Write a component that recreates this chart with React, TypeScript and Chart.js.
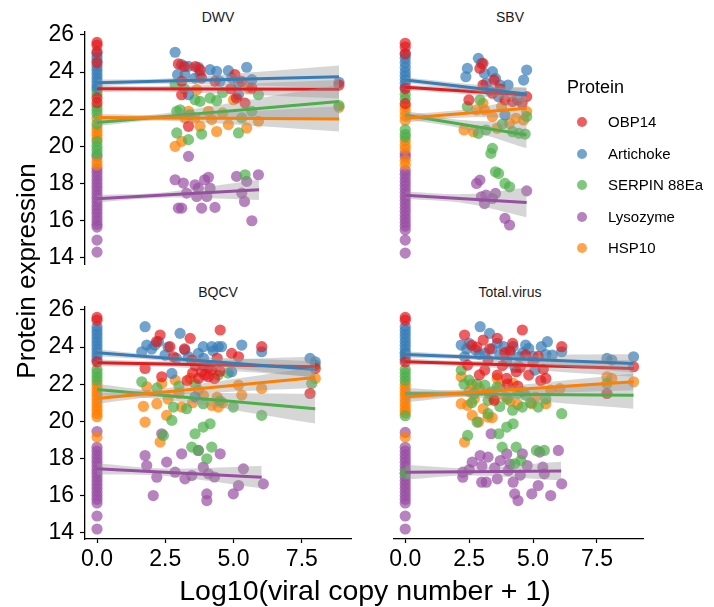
import React, { useEffect, useRef } from "react";
import { Chart, registerables } from "chart.js";
Chart.register(...registerables);

const FONT = "'Liberation Sans', Arial, Helvetica, sans-serif";

const PROTEINS = ["OBP14", "Artichoke", "SERPIN 88Ea", "Lysozyme", "HSP10"];
const COLORS = ["#E41A1C", "#377EB8", "#4DAF4A", "#984EA3", "#FF7F00"];
const PANELS = ["DWV", "SBV", "BQCV", "Total.virus"];
const X_TICKS = [0, 2.5, 5, 7.5];
const Y_TICKS = [14, 16, 18, 20, 22, 24, 26];
const X_MIN = -0.44;
const X_MAX = 9.3;
const Y_MIN = 13.66;
const Y_MAX = 26.16;
const BAND_MID_X = 2.5;
// drawing order of the point layers, bottom -> top (indices into PROTEINS)
const POINT_LAYER = [3, 4, 2, 1, 0];

// ---------- samples with zero viral copies (y values at x = 0), order = PROTEINS
const DWV_ZERO = [
  [25.6, 25.45, 25.1, 24.5, 22.6, 22.35],
  [25.0, 24.8, 24.6, 24.3, 24.1, 23.9, 23.7, 23.5, 23.3, 23.15],
  [23.0, 22.8, 22.15, 21.95, 21.75, 21.2, 20.25, 20.0, 19.8, 19.6],
  [19.45, 18.8, 18.6, 18.4, 18.2, 18.0, 17.8, 17.6, 17.4, 17.2, 17.0, 16.8, 16.6, 16.4, 16.2, 16.0, 15.8, 15.65, 14.95, 14.3],
  [21.5, 21.0, 20.8, 20.6, 20.4, 19.2, 19.0],
];
const SBV_ZERO = [
  [25.55, 25.35, 25.0, 23.1, 22.3],
  [24.95, 24.75, 24.5, 24.25, 24.0, 23.8, 23.6, 23.4, 23.2],
  [22.8, 22.55, 20.9, 20.65, 20.5],
  [19.6, 19.45, 18.7, 18.5, 18.3, 18.1, 17.9, 17.7, 17.5, 17.3, 17.1, 16.9, 16.7, 16.5, 16.3, 16.1, 15.9, 15.7, 15.5, 14.95, 14.25],
  [22.15, 21.9, 21.65, 21.4, 20.3, 20.05, 19.85, 19.25, 19.0],
];
const BQCV_ZERO = [
  [25.6, 25.45, 23.2],
  [25.1, 24.9, 24.7, 24.5, 24.3, 24.1, 23.9, 23.7, 23.5, 23.3],
  [22.8, 22.6, 22.4, 22.2],
  [19.45, 18.6, 18.4, 18.2, 18.0, 17.8, 17.6, 17.4, 17.2, 17.0, 16.8, 16.6, 16.4, 16.2, 16.0, 15.8, 15.6, 14.9, 14.2],
  [22.0, 21.8, 21.6, 21.4, 21.2, 21.0, 20.8, 20.6, 20.4, 20.25, 19.15],
];
const TOTAL_ZERO = [
  [25.6, 25.45, 23.2],
  [25.1, 24.9, 24.7, 24.5, 24.3, 24.1, 23.9, 23.7, 23.5, 23.35],
  [23.65, 22.8, 22.6, 22.4, 22.2, 20.3, 17.2],
  [19.4, 18.6, 18.4, 18.2, 18.0, 17.8, 17.6, 17.4, 17.2, 17.0, 16.8, 16.6, 16.4, 16.2, 16.0, 15.8, 15.6, 14.9, 14.2],
  [22.0, 21.8, 21.6, 21.4, 21.2, 21.0, 20.8, 20.6, 20.45, 19.15],
];

// ---------- samples with virus detected: [log10 copies + 1, expression]
const DWV_OBP14 = [[2.98,24.44],[3.77,24.13],[4.32,23.5],[5.05,23.86],[3.1,22.78],[5.42,22.33],[5.3,23.5],[3.83,23.68],[3.35,21.08],[5.67,23.14],[3.1,23.5],[8.86,23.3],[3.6,24.3],[4.9,23.1],[3.2,24.3],[5.1,22.6]];
const DWV_ARTICHOKE = [[2.86,25.07],[3.1,24.4],[3.35,24.31],[3.71,24.26],[4.14,24.13],[4.38,24.04],[4.81,24.08],[5.48,24.26],[2.95,23.86],[3.22,23.86],[3.77,23.86],[4.93,23.68],[5.18,23.41],[5.67,23.59],[3.35,22.78],[5.18,22.78],[8.86,23.45],[3.59,23.68],[4.5,23.5]];
const DWV_SERPIN = [[2.86,23.32],[3.2,23.1],[3.59,22.51],[3.77,22.42],[4.14,22.6],[4.38,22.46],[2.92,21.89],[3.04,21.97],[2.92,20.72],[3.35,20.36],[3.83,20.66],[5.18,20.72],[5.91,22.78],[5.42,18.47],[5.3,21.53],[5.67,21.89],[8.86,22.2],[4.6,22.9],[3.4,21.7]];
const DWV_LYSOZYME = [[2.86,18.2],[3.16,18.02],[3.59,17.93],[3.94,18.2],[4.08,18.33],[3.71,17.75],[3.28,17.48],[3.65,17.3],[4.14,17.75],[4.02,17.3],[2.98,16.67],[3.1,16.67],[3.83,16.67],[4.32,16.71],[5.11,18.38],[5.48,18.11],[5.91,18.47],[5.3,17.48],[5.4,17.03],[5.67,15.99],[3.35,19.46]];
const DWV_HSP10 = [[2.86,20.0],[3.1,20.27],[3.22,21.53],[3.65,23.05],[3.59,21.53],[3.77,21.08],[4.38,20.8],[4.08,21.89],[4.81,21.17],[5.0,22.51],[5.48,20.99],[5.91,21.35],[4.2,21.44],[3.35,21.89],[8.86,22.1],[5.54,23.14],[4.6,21.8]];

const SBV_OBP14 = [[3.04,24.47],[2.92,24.2],[3.47,23.57],[3.41,22.86],[2.49,22.5],[3.9,22.5],[4.2,22.41],[4.75,22.68],[4.57,22.32],[3.04,23.3],[3.7,23.1]];
const SBV_ARTICHOKE = [[2.86,24.74],[2.43,24.2],[2.37,23.75],[2.98,24.47],[3.1,23.93],[3.41,24.02],[3.53,23.66],[3.16,23.39],[3.71,23.3],[4.02,23.3],[3.9,21.69],[4.63,23.57],[4.75,24.11],[3.65,22.67],[4.39,22.5],[3.3,23.0]];
const SBV_SERPIN = [[2.43,22.14],[2.92,22.5],[2.86,20.7],[3.16,20.88],[4.2,20.79],[4.45,20.7],[4.69,20.66],[4.75,21.6],[3.41,19.89],[3.35,19.62],[3.53,18.63],[3.65,18.54],[3.9,18.0],[4.08,17.82],[3.8,21.2]];
const SBV_LYSOZYME = [[2.79,18.0],[2.92,18.18],[2.98,17.28],[3.1,16.92],[3.41,17.19],[3.53,17.46],[3.9,16.12],[4.08,15.76],[4.75,17.6],[3.16,17.37]];
const SBV_HSP10 = [[2.3,20.88],[2.67,20.79],[3.04,22.32],[3.1,21.96],[3.41,21.6],[3.59,20.97],[4.08,21.24],[4.33,21.51],[4.63,21.42],[4.75,21.87],[3.77,22.14],[2.79,21.96]];

const BQCV_OBP14 = [[2.31,24.65],[2.18,24.3],[2.67,24.02],[3.41,24.47],[4.51,24.92],[2.8,23.48],[3.47,23.3],[3.83,22.67],[4.2,22.76],[4.93,23.66],[5.18,23.48],[6.03,24.02],[1.76,22.85],[2.37,22.4],[3.71,22.31],[4.08,22.4],[7.8,21.5],[7.99,22.85],[3.2,23.9],[4.4,23.4],[3.9,23.0],[3.5,22.6],[3.95,22.5],[4.1,22.9],[4.3,22.3],[3.6,23.0],[4.5,22.7],[3.3,22.2]];
const BQCV_ARTICHOKE = [[1.76,25.1],[1.82,24.11],[1.64,23.75],[2.12,24.11],[2.25,24.29],[3.04,24.74],[2.49,23.57],[3.22,23.84],[3.71,23.66],[3.89,24.02],[4.2,24.02],[4.44,24.02],[4.56,24.02],[5.3,24.11],[6.03,23.75],[4.93,22.67],[3.59,21.32],[7.8,23.39],[7.99,23.21],[2.74,22.58],[3.35,23.48],[2.0,23.9],[2.6,24.0],[3.9,23.4],[4.25,23.8],[2.9,23.4]];
const BQCV_SERPIN = [[1.64,22.13],[2.8,20.77],[3.28,20.68],[2.74,20.05],[2.43,19.24],[3.59,19.33],[3.89,19.69],[4.14,19.87],[3.47,18.61],[3.71,18.43],[4.02,17.98],[4.2,18.61],[6.03,20.32],[4.99,20.77],[3.89,20.95],[4.44,22.49],[7.99,23.03],[7.86,22.04],[2.2,21.8],[3.0,21.9],[3.6,22.0],[4.5,21.1],[4.8,22.6]];
const BQCV_LYSOZYME = [[1.76,18.16],[1.82,17.62],[2.06,16.0],[2.19,16.99],[2.55,17.8],[2.86,17.26],[3.1,18.25],[3.22,16.9],[3.71,18.43],[4.51,18.25],[3.89,17.53],[4.08,17.17],[4.02,16.09],[4.02,15.73],[4.99,16.09],[5.18,16.54],[5.36,17.44],[6.09,16.63],[2.37,19.33],[3.47,17.08],[4.3,17.0]];
const BQCV_HSP10 = [[1.7,20.81],[1.76,19.96],[2.19,20.95],[2.31,18.88],[2.55,20.32],[1.82,21.86],[2.37,22.04],[2.86,22.22],[3.41,22.31],[3.1,20.77],[4.2,20.86],[4.44,20.77],[5.18,21.95],[5.3,21.41],[6.03,21.77],[7.99,22.31],[3.71,21.68],[2.6,21.2],[3.0,21.5],[3.5,21.0],[3.9,21.4],[4.4,21.3],[4.6,21.0]];

const TOTAL_OBP14 = [[2.32,24.65],[3.05,24.38],[3.6,24.47],[4.58,24.92],[3.24,23.3],[4.71,23.57],[6.12,24.02],[2.44,23.03],[3.11,22.76],[3.6,22.49],[3.97,22.31],[4.34,22.67],[4.83,22.49],[5.5,22.31],[3.48,21.13],[7.89,21.5],[8.93,22.94],[2.8,24.0],[3.9,23.7],[5.2,23.5],[4.2,24.2],[2.6,24.1],[3.3,23.9],[3.8,23.0],[4.1,23.8],[4.5,22.9],[5.0,23.2],[5.4,22.8],[2.9,22.5],[4.4,21.9],[5.3,22.2],[4.0,22.0]];
const TOTAL_ARTICHOKE = [[2.93,25.1],[3.3,24.74],[2.19,24.11],[2.5,24.2],[2.75,23.84],[3.6,24.2],[3.85,24.02],[4.22,24.02],[4.71,24.11],[4.83,23.93],[5.32,24.02],[5.56,24.29],[5.75,23.57],[6.12,23.75],[2.32,23.48],[3.11,23.66],[4.46,23.48],[5.07,22.76],[7.89,23.39],[8.08,23.3],[8.93,23.48],[3.97,23.21],[2.4,23.9],[2.9,23.6],[3.4,23.9],[3.7,23.6],[4.1,23.7],[4.6,23.7],[5.0,23.5],[5.5,23.6],[4.3,22.9]];
const TOTAL_SERPIN = [[2.19,22.76],[2.5,22.22],[3.11,21.95],[3.6,21.86],[2.81,19.96],[3.24,20.41],[3.97,19.69],[4.22,19.87],[3.66,19.33],[4.58,20.77],[5.2,20.77],[6.12,20.41],[2.44,19.24],[3.79,18.61],[4.34,18.61],[4.28,17.71],[5.13,18.43],[5.44,18.43],[4.52,17.89],[3.24,21.13],[4.71,21.41],[7.89,22.04],[2.8,22.0],[2.3,22.0],[2.7,21.5],[3.4,21.6],[4.0,21.2],[4.4,21.5],[4.9,21.0],[5.5,21.2],[3.7,20.8],[4.2,20.6],[2.6,21.0]];
const TOTAL_LYSOZYME = [[2.25,17.26],[2.25,16.99],[2.62,17.8],[2.93,18.16],[3.24,18.07],[2.99,16.72],[3.17,16.72],[3.36,19.33],[3.6,16.9],[3.72,17.89],[3.97,18.25],[4.22,16.72],[4.28,16.09],[4.41,15.73],[4.58,18.25],[4.77,17.62],[4.95,16.09],[5.2,16.54],[5.26,18.34],[5.44,17.17],[5.69,16.0],[5.99,18.43],[6.12,16.63],[4.03,17.35],[5.38,17.53],[2.5,17.4],[3.5,17.5],[4.5,17.1],[3.0,17.6],[4.1,17.7]];
const TOTAL_HSP10 = [[2.19,20.95],[2.44,20.86],[2.62,20.32],[2.87,19.96],[3.24,20.23],[2.32,18.88],[2.19,22.4],[3.6,22.31],[3.48,21.23],[3.91,21.32],[4.95,20.95],[5.5,20.95],[5.69,21.68],[4.22,22.04],[6.05,21.77],[7.89,22.4],[8.08,22.31],[8.93,22.13],[3.05,20.68],[2.6,22.0],[2.5,21.6],[2.9,21.8],[3.3,21.5],[3.7,21.9],[4.1,21.1],[4.6,21.6],[5.1,21.3],[4.4,20.9],[3.4,20.2],[2.7,21.2]];

// ---------- linear fits: [x max, fit at x=0, fit at x max, CI half-width at 0, at BAND_MID_X, at x max]
const DWV_FIT = [
  [8.86, 23.1, 23.08, 0.18, 0.15, 0.5],
  [8.86, 23.42, 23.75, 0.17, 0.14, 0.6],
  [8.86, 21.29, 22.42, 0.2, 0.18, 0.9],
  [5.93, 17.18, 17.66, 0.2, 0.15, 0.55],
  [8.86, 21.56, 21.47, 0.18, 0.16, 0.67],
];
const SBV_FIT = [
  [4.75, 23.18, 22.77, 0.15, 0.18, 0.38],
  [4.75, 23.57, 22.82, 0.15, 0.18, 0.35],
  [4.75, 21.69, 20.61, 0.22, 0.25, 0.72],
  [4.75, 17.37, 16.98, 0.2, 0.25, 0.8],
  [4.75, 21.51, 22.05, 0.22, 0.22, 0.55],
];
const BQCV_FIT = [
  [7.99, 23.15, 22.94, 0.18, 0.15, 0.55],
  [7.99, 23.69, 22.79, 0.18, 0.15, 0.45],
  [7.99, 21.71, 20.68, 0.3, 0.22, 0.8],
  [6.03, 17.44, 16.99, 0.3, 0.2, 0.6],
  [7.99, 21.23, 22.36, 0.28, 0.2, 0.55],
];
const TOTAL_FIT = [
  [8.93, 23.21, 22.85, 0.18, 0.14, 0.45],
  [8.93, 23.60, 23.12, 0.18, 0.14, 0.5],
  [8.93, 21.50, 21.41, 0.3, 0.18, 0.73],
  [6.1, 17.26, 17.32, 0.4, 0.2, 0.5],
  [8.93, 21.32, 22.13, 0.3, 0.18, 0.45],
];

const PANEL_ZERO = [DWV_ZERO, SBV_ZERO, BQCV_ZERO, TOTAL_ZERO];
const PANEL_POINTS = [
  [DWV_OBP14, DWV_ARTICHOKE, DWV_SERPIN, DWV_LYSOZYME, DWV_HSP10],
  [SBV_OBP14, SBV_ARTICHOKE, SBV_SERPIN, SBV_LYSOZYME, SBV_HSP10],
  [BQCV_OBP14, BQCV_ARTICHOKE, BQCV_SERPIN, BQCV_LYSOZYME, BQCV_HSP10],
  [TOTAL_OBP14, TOTAL_ARTICHOKE, TOTAL_SERPIN, TOTAL_LYSOZYME, TOTAL_HSP10],
];
const PANEL_FIT = [DWV_FIT, SBV_FIT, BQCV_FIT, TOTAL_FIT];

// ---------- layout (page pixels)
const PLOT_LEFT = [85, 377];
const PLOT_RIGHT = [351, 643];
const PLOT_TOP = [32, 307];
const PLOT_BOTTOM = [264, 539];

function rgba(hex: string, a: number) {
  const n = parseInt(hex.slice(1), 16);
  return `rgba(${(n >> 16) & 255},${(n >> 8) & 255},${n & 255},${a})`;
}

type PanelProps = { idx: number };

function Panel({ idx }: PanelProps) {
  const ref = useRef<HTMLCanvasElement>(null);
  const col = idx % 2;
  const row = Math.floor(idx / 2);
  const showY = col === 0;
  const showX = row === 1;
  const cx0 = col === 0 ? 0 : 360;
  const cy0 = row === 0 ? 0 : 285;
  const cw = col === 0 ? 360 : 300;
  const ch = row === 0 ? 290 : 322;
  const yAxisW = PLOT_LEFT[col] - cx0;
  const padLeft = showY ? 0 : PLOT_LEFT[col] - cx0;
  const padRight = cx0 + cw - PLOT_RIGHT[col];
  const padTop = PLOT_TOP[row] - cy0;
  const padBottom = showX ? 20 : cy0 + ch - PLOT_BOTTOM[row];
  const xAxisH = cy0 + ch - padBottom - PLOT_BOTTOM[row];

  useEffect(() => {
    const canvas = ref.current;
    if (!canvas) return;
    const zero = PANEL_ZERO[idx];
    const pts = PANEL_POINTS[idx];
    const fits = PANEL_FIT[idx];
    const seq: any[] = [];
    POINT_LAYER.forEach((p) => {
      const data = zero[p]
        .map((y) => ({ x: 0, y }))
        .concat(pts[p].map(([x, y]) => ({ x, y })));
      seq.push({
        type: "scatter",
        label: PROTEINS[p],
        data,
        backgroundColor: rgba(COLORS[p], 0.7),
        borderWidth: 0,
        pointRadius: 5.6,
        pointHoverRadius: 5.6,
        showLine: false,
        clip: false,
      });
    });
    fits.forEach((f, p) => {
      const [xmax, y0, y1, h0, hm, h1] = f;
      const fitAt = (x: number) => y0 + ((y1 - y0) * x) / xmax;
      const bx = [0, Math.min(BAND_MID_X, xmax / 2), xmax];
      const bh = [h0, hm, h1];
      seq.push({
        type: "line",
        label: PROTEINS[p] + " ci upper",
        data: bx.map((x, i) => ({ x, y: fitAt(x) + bh[i] })),
        borderWidth: 0,
        borderColor: "rgba(0,0,0,0)",
        pointRadius: 0,
        tension: 0.35,
        fill: "+1",
        backgroundColor: "rgba(153,153,153,0.4)",
      });
      seq.push({
        type: "line",
        label: PROTEINS[p] + " ci lower",
        data: bx.map((x, i) => ({ x, y: fitAt(x) - bh[i] })),
        borderWidth: 0,
        borderColor: "rgba(0,0,0,0)",
        pointRadius: 0,
        tension: 0.35,
        fill: false,
      });
      seq.push({
        type: "line",
        label: PROTEINS[p] + " fit",
        data: [
          { x: 0, y: y0 },
          { x: xmax, y: y1 },
        ],
        borderColor: COLORS[p],
        borderWidth: 3,
        pointRadius: 0,
        fill: false,
      });
    });
    seq.forEach((d, k) => (d.order = seq.length - k));

    const tickFont = { family: FONT, size: 23 };
    const chart = new Chart(canvas, {
      type: "scatter",
      data: { datasets: seq },
      options: {
        animation: false,
        responsive: false,
        devicePixelRatio: 1,
        events: [],
        layout: {
          padding: { left: padLeft, right: padRight, top: padTop, bottom: padBottom },
        },
        plugins: {
          legend: { display: false },
          tooltip: { enabled: false },
          title: { display: false },
        },
        scales: {
          x: {
            type: "linear",
            min: X_MIN,
            max: X_MAX,
            display: showX,
            afterBuildTicks: (s: any) => {
              s.ticks = X_TICKS.map((v) => ({ value: v }));
            },
            afterFit: (s: any) => {
              s.height = xAxisH;
            },
            ticks: {
              callback: (v: any) => Number(v).toFixed(1),
              font: tickFont,
              color: "#000",
              padding: 3,
              maxRotation: 0,
              autoSkip: false,
            },
            grid: {
              display: true,
              drawOnChartArea: false,
              drawTicks: true,
              tickLength: 4,
              tickColor: "#000",
              tickWidth: 1.2,
            },
            border: { display: true, color: "#000", width: 1.3 },
          },
          y: {
            type: "linear",
            min: Y_MIN,
            max: Y_MAX,
            display: showY,
            afterBuildTicks: (s: any) => {
              s.ticks = Y_TICKS.map((v) => ({ value: v }));
            },
            afterFit: (s: any) => {
              s.width = yAxisW;
            },
            ticks: {
              callback: (v: any) => String(v),
              font: tickFont,
              color: "#000",
              padding: 6,
              autoSkip: false,
            },
            grid: {
              display: true,
              drawOnChartArea: false,
              drawTicks: true,
              tickLength: 5,
              tickColor: "#000",
              tickWidth: 1.2,
            },
            border: { display: true, color: "#000", width: 1.3 },
          },
        },
      } as any,
    });
    return () => chart.destroy();
  }, [idx]);

  return (
    <canvas
      ref={ref}
      width={cw}
      height={ch}
      style={{ position: "absolute", left: cx0, top: cy0, width: cw, height: ch }}
    />
  );
}

export default function App() {
  const stripY = [17, 292];
  return (
    <div
      style={{
        position: "fixed",
        left: 0,
        top: 0,
        width: 714,
        height: 607,
        background: "#fff",
        fontFamily: FONT,
        overflow: "hidden",
      }}
    >
      {PANELS.map((name, i) => {
        const col = i % 2;
        const row = Math.floor(i / 2);
        return (
          <div
            key={"strip" + name}
            style={{
              position: "absolute",
              left: PLOT_LEFT[col],
              width: PLOT_RIGHT[col] - PLOT_LEFT[col],
              top: stripY[row] - 9,
              lineHeight: "18px",
              fontSize: 14,
              color: "#1a1a1a",
              textAlign: "center",
            }}
          >
            {name}
          </div>
        );
      })}
      {PANELS.map((name, i) => (
        <Panel key={name} idx={i} />
      ))}
      <div
        style={{
          position: "absolute",
          left: 365 - 250,
          width: 500,
          top: 576,
          fontSize: 28.5,
          lineHeight: "28px",
          textAlign: "center",
          color: "#000",
          whiteSpace: "nowrap",
        }}
      >
        Log10(viral copy number + 1)
      </div>
      <div
        style={{
          position: "absolute",
          left: 26 - 150,
          width: 300,
          top: 271 - 13,
          height: 26,
          fontSize: 26,
          lineHeight: "26px",
          textAlign: "center",
          color: "#000",
          whiteSpace: "nowrap",
          transform: "rotate(-90deg)",
          transformOrigin: "50% 50%",
        }}
      >
        Protein expression
      </div>
      <div
        style={{
          position: "absolute",
          left: 567,
          top: 87 - 11,
          fontSize: 18,
          lineHeight: "22px",
          color: "#000",
        }}
      >
        Protein
      </div>
      {PROTEINS.map((p, i) => {
        const cy = 122 + 31.6 * i;
        return (
          <React.Fragment key={"leg" + p}>
            <div
              style={{
                position: "absolute",
                left: 577,
                top: cy - 5,
                width: 10,
                height: 10,
                borderRadius: "50%",
                background: rgba(COLORS[i], 0.7),
              }}
            />
            <div
              style={{
                position: "absolute",
                left: 608,
                top: cy - 9,
                fontSize: 15,
                lineHeight: "18px",
                color: "#000",
                whiteSpace: "nowrap",
              }}
            >
              {p}
            </div>
          </React.Fragment>
        );
      })}
    </div>
  );
}
